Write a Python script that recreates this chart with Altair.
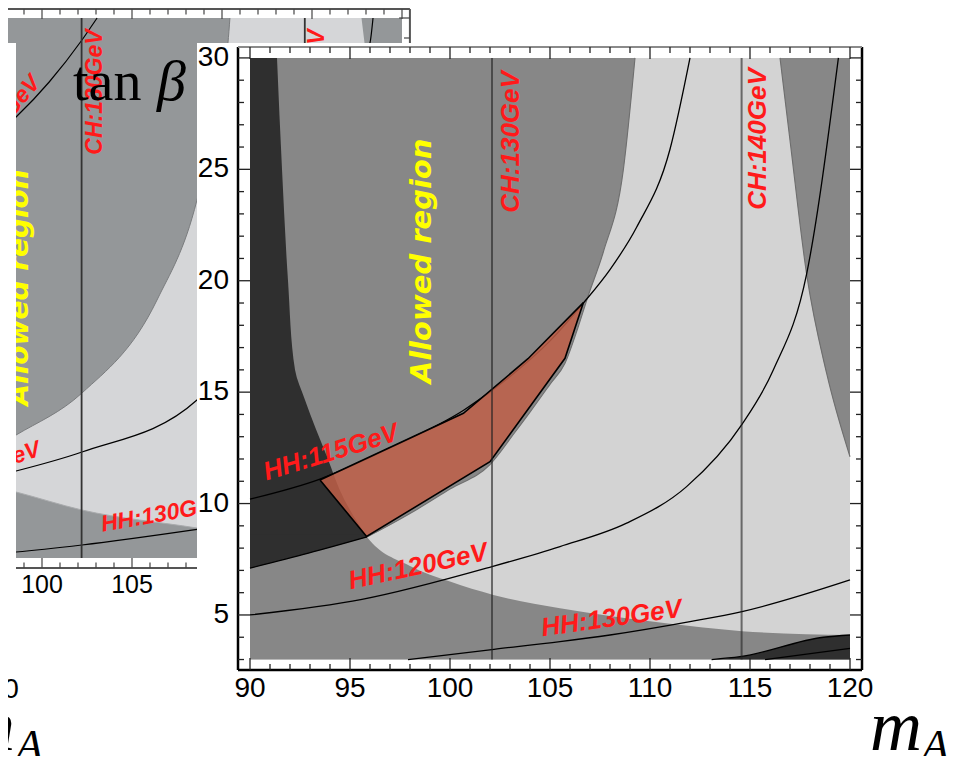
import altair as alt
import pandas as pd

# ================= main panel (m_A , tan beta) =================
X_DOMAIN = [89.4, 120.6]          # frame extent of the m_A axis
Y_DOMAIN = [2.53, 30.49]          # frame extent of the tan(beta) axis
FILL_X = [90, 120]
FILL_Y = [3, 30]
X_LABELS = [90, 95, 100, 105, 110, 115, 120]
Y_LABELS = [5, 10, 15, 20, 25, 30]
X_TICKS = list(range(90, 121))
Y_TICKS = list(range(3, 31))
X_LABEL_ROW = 1.676               # tan(beta) level of the m_A tick labels
Y_LABEL_COL = 88.95               # m_A level of the tan(beta) tick labels

# excluded region 1 : left / below the arc
ARC_X = [90, 91.35, 91.6, 91.9, 92.25, 92.75, 93.85, 94.7, 95.85, 98, 100, 102.17, 105.5, 108, 112, 114.6, 120]
ARC_Y = [30, 30, 25, 20, 16, 14.65, 12.1, 10.2, 8.5, 7.2, 6.5, 5.9, 5.3, 4.95, 4.5, 4.27, 4.1]
# excluded region 2 : above this curve
G2_X = [90, 92.92, 95.85, 98, 100, 102, 103.25, 104, 105, 105.75, 106.4, 106.9, 107.67, 108.67, 109.25]
G2_Y = [7.1, 7.77, 8.5, 9.55, 10.65, 11.75, 13.2, 14.1, 15.35, 16.3, 17.9, 19.3, 21.3, 25.0, 30]
# excluded region 3 : right of this curve
G3_X = [116.5, 117, 117.83, 118.83, 120]
G3_Y = [30, 26.3, 20.3, 15.85, 12.1]
# dark wedge bottom right
WEDGE_X = [113.08, 114.5, 118.67, 120]
WEDGE_Y = [3.0, 3.13, 4.0, 4.1]
WEDGE2_X = [115.75, 120]
WEDGE2_Y = [3.0, 3.5]

# HH mass contours
HH115_X = [90, 93.5, 97, 100.7, 103, 105, 106.67, 108, 109.33, 111, 112]
HH115_Y = [10.2, 11.1, 12.5, 14.2, 15.7, 17.3, 19.0, 20.5, 22.4, 25.9, 30]
HH120_X = [90, 95.6, 102.1, 105.5, 108.83, 111.83, 114.58, 116.17, 117.83, 119.42]
HH120_Y = [5.0, 5.7, 7.17, 8.07, 9.12, 10.76, 13.53, 16.0, 20.3, 30]
HH130_X = [97.9, 102.2, 105.5, 108, 112, 114.6, 120]
HH130_Y = [3.0, 3.46, 3.8, 4.1, 4.7, 5.15, 6.57]
# CH mass lines
CH_X = [102.1, 114.58]

# allowed polygon
POLY_X = [93.5, 100.67, 103.9, 106.67, 105.75, 102.0, 95.83, 93.5]
POLY_Y = [11.06, 14.05, 16.5, 19.02, 16.52, 11.88, 8.52, 11.06]

MAIN_LABELS = ["HH:115GeV", "HH:120GeV", "HH:130GeV", "CH:130GeV", "CH:140GeV"]
MAIN_LABEL_X = [94.05, 98.4, 108.08, 103.03, 115.38]
MAIN_LABEL_Y = [12.29, 7.17, 4.84, 26.23, 26.36]
MAIN_LABEL_ANGLE = [343, 348, 352, 270, 270]

# white card of the main picture and left strip
CARD_X = [87.35, 126]
CARD_Y = [-3, 30.67]
STRIP_X = [77.0, 78.3]
STRIP_Y = [-3, 30.67]

# ================= background (older) panel =================
BG_X_DOMAIN = [110.889, 145.556]
BG_Y_DOMAIN = [-2.6, 28.55]
BG_FILL_X = [90, 120]
BG_FILL_Y = [3, 30]
BG_FRAME_X = [90, 120.44]
BG_FRAME_Y = [2.5, 30.45]
BG_X_LABELS = [90, 95, 100, 105, 110, 115, 120]
BG_X_TICKS = list(range(90, 121))
BG_Y_TICKS = list(range(3, 31))
BG_G2_X = [97.9, 98.56, 102.22, 106.39, 108.61, 110.33, 110.44]
BG_G2_Y = [8.8, 9.15, 11.25, 15.9, 20.9, 28.75, 30]
BG_G1_X = [97.9, 98.56, 102.22, 108.61, 110]
BG_G1_Y = [6.45, 6.3, 5.4, 4.5, 4.3]
BG_G3_X = [117.75, 118.1, 120]
BG_G3_Y = [30, 27.5, 21]
BG_HH115_X = [97.9, 98.56, 100.4, 102.22, 103.06]
BG_HH115_Y = [24.5, 25.05, 26.8, 28.9, 30]
BG_HH120_X = [97.9, 98.56, 102.22, 108.61, 118.22, 118.39]
BG_HH120_Y = [7.2, 7.35, 8.3, 10.9, 28.75, 30]
BG_HH130_X = [97.9, 98.56, 102.22, 108.61]
BG_HH130_Y = [3.25, 3.3, 3.65, 4.43]
BG_CH_X = [102.2, 114.6]
BG_LABELS = ["CH:130GeV", "CH:140GeV", "HH:115GeV", "HH:120GeV", "HH:130GeV"]
BG_LABEL_X = [102.97, 115.28, 97.46, 96.56, 106.72]
BG_LABEL_Y = [26.3, 26.3, 24.6, 7.5, 5.2]
BG_LABEL_ANGLE = [270, 270, 310, 342, 350]

LIGHT = "#d3d3d3"
MID = "#878787"
DARK = "#2f2f2f"
BG_LIGHT = "#d5d6d8"
BG_MID = "#949799"
RED = "#ff1a1a"


def sc(dom):
    return alt.Scale(domain=dom, nice=False, zero=False)


MXS, MYS = sc(X_DOMAIN), sc(Y_DOMAIN)
BXS, BYS = sc(BG_X_DOMAIN), sc(BG_Y_DOMAIN)


def X(f, s):
    return alt.X(f, scale=s, axis=None)


def Y(f, s):
    return alt.Y(f, scale=s, axis=None)


def rect(xr, yr, color, xs, ys):
    df = pd.DataFrame({"x": [xr[0]], "x2": [xr[1]], "y": [yr[0]], "y2": [yr[1]]})
    return alt.Chart(df).mark_rect(color=color).encode(
        x=X("x:Q", xs), x2="x2:Q", y=Y("y:Q", ys), y2="y2:Q")


def area_v(xv, yv, base, color, xs, ys):
    df = pd.DataFrame({"x": xv, "y": yv})
    return alt.Chart(df).mark_area(color=color, interpolate="monotone", orient="vertical").encode(
        x=X("x:Q", xs), y=Y("y:Q", ys), y2=alt.datum(base))


def area_h(xv, yv, base, color, xs, ys):
    df = pd.DataFrame({"x": xv, "y": yv}).sort_values("y")
    return alt.Chart(df).mark_area(color=color, interpolate="monotone", orient="horizontal").encode(
        y=Y("y:Q", ys), x=X("x:Q", xs), x2=alt.datum(base))


def line(xv, yv, color, width, xs, ys, interp="monotone", opacity=1.0):
    df = pd.DataFrame({"x": xv, "y": yv, "o": list(range(len(xv)))})
    return alt.Chart(df).mark_line(color=color, strokeWidth=width, interpolate=interp,
                                   opacity=opacity).encode(
        x=X("x:Q", xs), y=Y("y:Q", ys), order="o:Q")


def vlines(xv, y0, y1, color, width, xs, ys, opacity=1.0):
    df = pd.DataFrame({"x": xv, "y": [y0] * len(xv), "y2": [y1] * len(xv)})
    return alt.Chart(df).mark_rule(color=color, strokeWidth=width, opacity=opacity).encode(
        x=X("x:Q", xs), y=Y("y:Q", ys), y2="y2:Q")


def segs(rows, color, width, xs, ys):
    df = pd.DataFrame(rows, columns=["x", "x2", "y", "y2"])
    return alt.Chart(df).mark_rule(color=color, strokeWidth=width).encode(
        x=X("x:Q", xs), x2="x2:Q", y=Y("y:Q", ys), y2="y2:Q")


def texts(labels, xv, yv, angles, color, size, font, xs, ys, style="italic", weight="bold",
          align="center", baseline="middle"):
    df = pd.DataFrame({"x": xv, "y": yv, "t": labels, "a": angles})
    out = []
    for a in sorted(set(angles)):
        sub = df[df["a"] == a]
        out.append(alt.Chart(sub).mark_text(angle=a, color=color, fontSize=size, font=font,
                                            fontStyle=style, fontWeight=weight, align=align,
                                            baseline=baseline).encode(
            x=X("x:Q", xs), y=Y("y:Q", ys), text="t:N"))
    return out


def ticks(xt, yt, xd, yd, xmaj, xmin, ymaj, ymin, bottom=True, top=True, left=True, right=True):
    rows = []
    for v in xt:
        ly = ymaj if v % 5 == 0 else ymin
        if bottom:
            rows.append([v, v, yd[0], yd[0] + ly])
        if top:
            rows.append([v, v, yd[1], yd[1] - ly])
    for v in yt:
        lx = xmaj if v % 5 == 0 else xmin
        if left:
            rows.append([xd[0], xd[0] + lx, v, v])
        if right:
            rows.append([xd[1], xd[1] - lx, v, v])
    return rows


# ---------------- background panel ----------------
bg_parts = [
    rect(BG_FILL_X, BG_FILL_Y, BG_LIGHT, BXS, BYS),
    area_v(BG_G1_X, BG_G1_Y, 3, BG_MID, BXS, BYS),
    area_v(BG_G2_X, BG_G2_Y, 30, BG_MID, BXS, BYS),
    area_v(BG_G3_X, BG_G3_Y, 30, BG_MID, BXS, BYS),
    line(BG_G2_X, BG_G2_Y, "#7a7c7e", 1, BXS, BYS),
    line(BG_G1_X, BG_G1_Y, "#a9abad", 1, BXS, BYS),
    line(BG_HH115_X, BG_HH115_Y, "black", 1.2, BXS, BYS),
    line(BG_HH120_X, BG_HH120_Y, "black", 1.2, BXS, BYS),
    line(BG_HH130_X, BG_HH130_Y, "black", 1.2, BXS, BYS),
    vlines(BG_CH_X, 3, 30, "#333333", 1.8, BXS, BYS),
]
bg_parts += texts(BG_LABELS, BG_LABEL_X, BG_LABEL_Y, BG_LABEL_ANGLE, RED, 23,
                  "Liberation Sans", BXS, BYS)
bg_parts += texts(["Allowed region"], [98.78], [16.53], [270], "#ffff00", 28,
                  "DejaVu Sans", BXS, BYS)
bg_parts += [
    segs([[BG_FRAME_X[0], BG_FRAME_X[1], BG_FRAME_Y[1], BG_FRAME_Y[1]],
          [BG_FRAME_X[0], BG_FRAME_X[1], BG_FRAME_Y[0], BG_FRAME_Y[0]],
          [BG_FRAME_X[1], BG_FRAME_X[1], BG_FRAME_Y[0], BG_FRAME_Y[1]]], "#555555", 2, BXS, BYS),
    segs(ticks(BG_X_TICKS, BG_Y_TICKS, BG_FRAME_X, BG_FRAME_Y, 0.6, 0.33, 0.5, 0.28,
               left=False), "#444444", 1.2, BXS, BYS),
]
bg_parts += texts([str(v) for v in BG_X_LABELS], BG_X_LABELS, [1.65] * len(BG_X_LABELS),
                  [0] * len(BG_X_LABELS), "black", 25, "Liberation Sans", BXS, BYS,
                  style="normal", weight="normal")
bg = alt.layer(*bg_parts)

# ---------------- main panel ----------------
dark_a_x = [x for x, y in zip(ARC_X, ARC_Y) if 91.35 <= x <= 95.85]
dark_a_y = [y for x, y in zip(ARC_X, ARC_Y) if 91.35 <= x <= 95.85]
dark_b_x = [x for x in G2_X if x <= 95.85]
dark_b_y = [y for x, y in zip(G2_X, G2_Y) if x <= 95.85]
g2_upper_x = [x for x in G2_X if x >= 95.85]
g2_upper_y = [y for x, y in zip(G2_X, G2_Y) if x >= 95.85]

poly_df = pd.DataFrame({"x": POLY_X, "y": POLY_Y, "o": list(range(len(POLY_X)))})
polygon = alt.Chart(poly_df).mark_line(fill="#c05f48", fillOpacity=0.85, stroke="black",
                                       strokeWidth=1.6, interpolate="linear").encode(
    x=X("x:Q", MXS), y=Y("y:Q", MYS), order="o:Q")

main_parts = [
    rect(CARD_X, CARD_Y, "white", MXS, MYS),
    rect(STRIP_X, STRIP_Y, "white", MXS, MYS),
    rect(FILL_X, FILL_Y, LIGHT, MXS, MYS),
    area_v(ARC_X, ARC_Y, 3, MID, MXS, MYS),
    area_v(G2_X, G2_Y, 30, MID, MXS, MYS),
    area_v(G3_X, G3_Y, 30, MID, MXS, MYS),
    area_v(WEDGE_X, WEDGE_Y, 3, DARK, MXS, MYS),
    area_h(dark_a_x, dark_a_y, 90, DARK, MXS, MYS),
    area_v(dark_b_x, dark_b_y, 8.6, DARK, MXS, MYS),
    line(g2_upper_x, g2_upper_y, "#6e6e6e", 1.1, MXS, MYS),
    line(G3_X, G3_Y, "#6e6e6e", 1.1, MXS, MYS),
    line(dark_b_x, dark_b_y, "black", 1.3, MXS, MYS),
    line(HH115_X, HH115_Y, "black", 1.3, MXS, MYS),
    line(HH120_X, HH120_Y, "black", 1.3, MXS, MYS),
    line(HH130_X, HH130_Y, "black", 1.3, MXS, MYS),
    line(WEDGE_X, WEDGE_Y, "black", 1.3, MXS, MYS),
    line(WEDGE2_X, WEDGE2_Y, "black", 1.3, MXS, MYS),
    polygon,
    vlines(CH_X, 3, 30, "#222222", 2, MXS, MYS, opacity=0.6),
    segs([[X_DOMAIN[0], X_DOMAIN[1], Y_DOMAIN[0], Y_DOMAIN[0]],
          [X_DOMAIN[0], X_DOMAIN[0], Y_DOMAIN[0], Y_DOMAIN[1]],
          [X_DOMAIN[1], X_DOMAIN[1], Y_DOMAIN[0], Y_DOMAIN[1]]], "black", 2.5, MXS, MYS),
    segs([[X_DOMAIN[0], X_DOMAIN[1], Y_DOMAIN[1], Y_DOMAIN[1]]], "#8a8a8a", 2, MXS, MYS),
    segs(ticks(X_TICKS, Y_TICKS, X_DOMAIN, Y_DOMAIN, 0.6, 0.3, 0.54, 0.27), "#222222", 1.3,
         MXS, MYS),
]
# tick labels
main_parts += texts([str(v) for v in X_LABELS], X_LABELS, [X_LABEL_ROW] * len(X_LABELS),
                    [0] * len(X_LABELS), "black", 28, "Liberation Sans", MXS, MYS,
                    style="normal", weight="normal")
main_parts += texts([str(v) for v in Y_LABELS], [Y_LABEL_COL] * len(Y_LABELS), Y_LABELS,
                    [0] * len(Y_LABELS), "black", 28, "Liberation Sans", MXS, MYS,
                    style="normal", weight="normal", align="right")
# curve / line labels
main_parts += texts(MAIN_LABELS, MAIN_LABEL_X, MAIN_LABEL_Y, MAIN_LABEL_ANGLE, RED, 26,
                    "Liberation Sans", MXS, MYS)
main_parts += texts(["Allowed region"], [98.6], [20.89], [270], "#ffff00", 29,
                    "DejaVu Sans", MXS, MYS)
# axis titles: tan beta and m_A (plus the fragment of another m_A at the left)
main_parts += texts(["tan"], [81.15], [28.11], [0], "black", 56, "Liberation Serif", MXS, MYS,
                    style="normal", weight="normal", align="left", baseline="alphabetic")
main_parts += texts(["β"], [85.35], [28.11], [0], "black", 58, "Liberation Serif", MXS, MYS,
                    style="italic", weight="normal", align="left", baseline="alphabetic")
main_parts += texts(["m"], [121.0], [-1.06], [0], "black", 72,
                    "Liberation Serif", MXS, MYS, style="italic", weight="normal",
                    align="left", baseline="alphabetic")
main_parts += texts(["m"], [78.25], [-1.06], [0], "black", 72,
                    "Liberation Serif", MXS, MYS, style="italic", weight="normal",
                    align="right", baseline="alphabetic")
main_parts += texts(["A", "A"], [123.6, 78.3], [-1.51, -1.51], [0, 0], "black", 44,
                    "Liberation Serif", MXS, MYS, style="italic", weight="normal",
                    align="left", baseline="alphabetic")
main_parts += texts(["0"], [78.05], [1.63], [0], "black", 28, "Liberation Sans", MXS, MYS,
                    style="normal", weight="normal")
main = alt.layer(*main_parts)

chart = alt.layer(bg, main).resolve_scale(x="independent", y="independent").properties(
    width=624, height=623,
    autosize=alt.AutoSizeParams(type="none"),
    padding={"left": 230, "top": 39, "right": 86, "bottom": 86},
).configure_view(strokeWidth=0)

chart.save("out.html", embed_options={"renderer": "svg", "actions": False})
